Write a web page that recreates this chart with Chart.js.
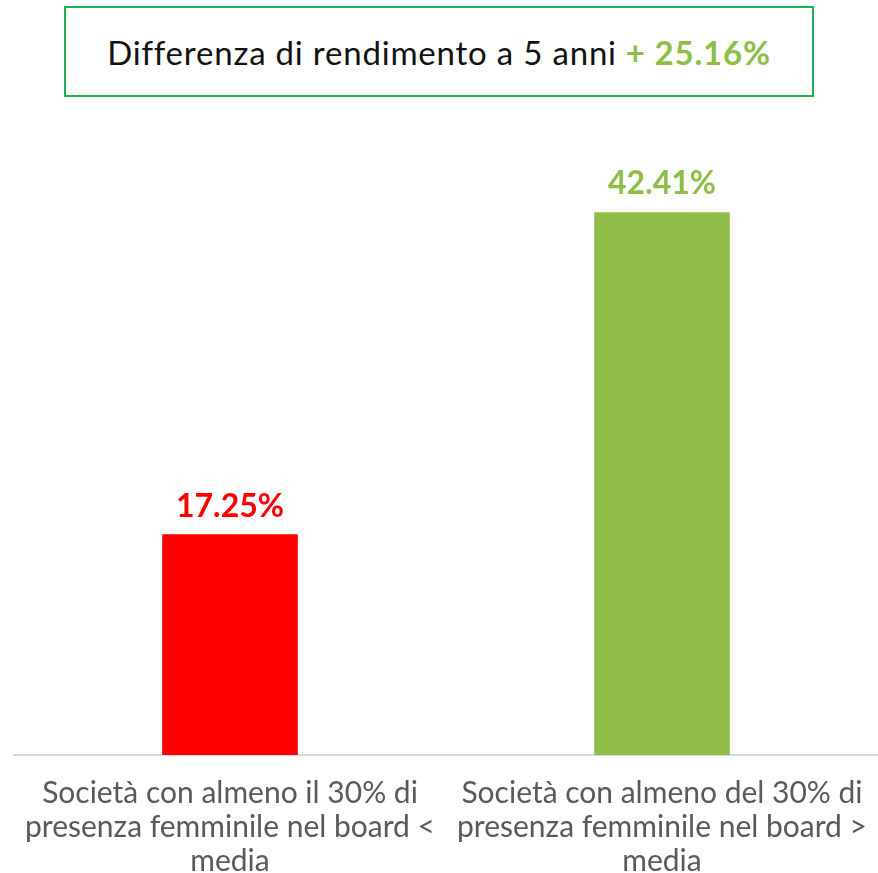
<!DOCTYPE html>
<html>
<head>
<meta charset="utf-8">
<script src="https://cdn.jsdelivr.net/npm/chart.js@4"></script>
<style>
  body { margin: 0; background: #fff; width: 878px; height: 873px; position: relative; overflow: hidden; font-family: Lato, sans-serif; }
  #title-box {
    position: absolute; left: 64px; top: 6px; width: 746px; height: 87px;
    border: 2px solid #1fb150; box-sizing: content-box;
    display: flex; align-items: center; justify-content: center;
    font-size: 33px; letter-spacing: 0.8px; color: #111;
  }
  #title-box b { color: #8fbd48; margin-left: 9px; }
  #chart-wrap { position: absolute; left: 0; top: 115px; width: 878px; height: 784px; }
</style>
</head>
<body>
<div id="title-box">Differenza di rendimento a 5 anni <b>+ 25.16%</b></div>
<div id="chart-wrap"><canvas id="perf-chart"></canvas></div>
<script>
const categories = [
  ["Società con almeno il 30% di", "presenza femminile nel board <", "media"],
  ["Società con almeno del 30% di", "presenza femminile nel board >", "media"]
];
const returns = [17.25, 42.41];
const barColors = ['#ff0000', '#8fbd48'];

// value labels drawn above each bar
const valueLabels = {
  id: 'valueLabels',
  afterDatasetsDraw(chart) {
    const ctx = chart.ctx;
    const meta = chart.getDatasetMeta(0);
    ctx.save();
    ctx.font = 'bold 32px Lato, sans-serif';
    ctx.textAlign = 'center';
    ctx.textBaseline = 'bottom';
    meta.data.forEach((bar, i) => {
      ctx.fillStyle = barColors[i];
      ctx.fillText(returns[i].toFixed(2) + '%', bar.x, bar.y - 12);
    });
    ctx.restore();
  }
};

const perfCanvas = document.getElementById('perf-chart');

let perfChart = new Chart(perfCanvas, {
  type: 'bar',
  data: {
    labels: categories,
    datasets: [{
      data: returns,
      backgroundColor: barColors,
      barPercentage: 0.314,
      categoryPercentage: 1
    }]
  },
  options: {
    maintainAspectRatio: false,
    animation: { duration: 0 },
    layout: { padding: { left: 14, right: 0, top: 0, bottom: 0 } },
    scales: {
      y: {
        display: false,
        min: 0,
        max: 50
      },
      x: {
        grid: { display: false, drawTicks: false },
        border: { color: '#d9d9d9', width: 2 },
        ticks: {
          color: '#595959',
          font: { family: 'Lato, sans-serif', size: 30, lineHeight: '34px' },
          padding: 21,
          maxRotation: 0,
          autoSkip: false
        },
        // labels are allowed to run to the edges, no extra side padding
        afterFit(scale) {
          scale.paddingLeft = 0;
          scale.paddingRight = 0;
        }
      }
    },
    plugins: {
      legend: { display: false },
      tooltip: { enabled: false }
    }
  },
  plugins: [valueLabels]
});
</script>
</body>
</html>
